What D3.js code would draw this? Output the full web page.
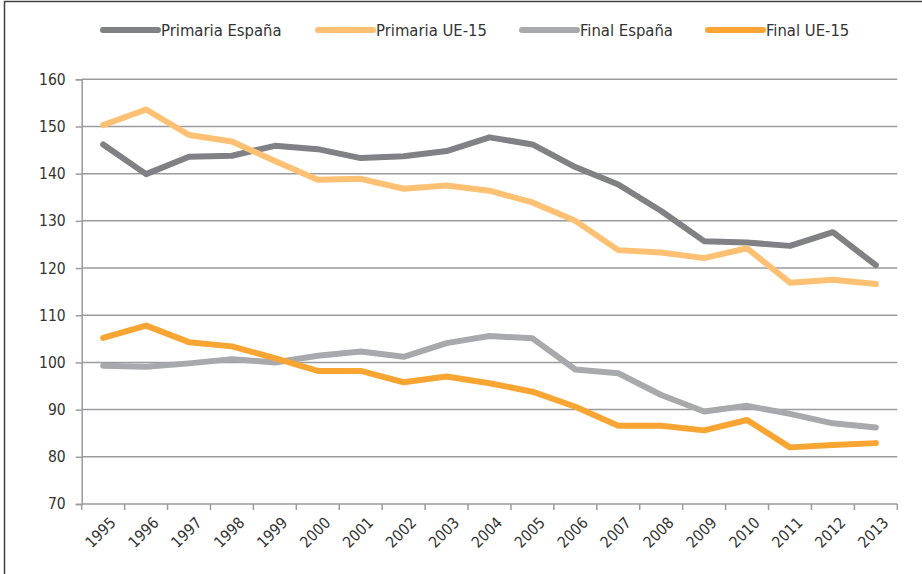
<!DOCTYPE html>
<html>
<head>
<meta charset="utf-8">
<script src="https://cdn.jsdelivr.net/npm/d3@7"></script>
<style>
  body { margin: 0; background: #fff; }
  svg text { font-family: "Liberation Sans Narrow", "DejaVu Sans Condensed", "Liberation Sans", sans-serif; fill: #333; }
</style>
</head>
<body>
<script>
var w = 922;
var h = 574;

var years = ["1995","1996","1997","1998","1999","2000","2001","2002","2003","2004",
             "2005","2006","2007","2008","2009","2010","2011","2012","2013"];
var yTicks = [70, 80, 90, 100, 110, 120, 130, 140, 150, 160];

var primariaEspana = [146.2, 139.9, 143.6, 143.8, 145.9, 145.2, 143.3, 143.7, 144.8, 147.7,
                      146.2, 141.4, 137.7, 132.1, 125.7, 125.4, 124.7, 127.6, 120.6];
var primariaUE15 = [150.3, 153.6, 148.2, 146.8, 142.7, 138.7, 138.9, 136.8, 137.5, 136.4,
                    133.9, 130.0, 123.8, 123.3, 122.1, 124.2, 116.9, 117.5, 116.6];
var finalEspana = [99.3, 99.1, 99.8, 100.7, 100.0, 101.4, 102.3, 101.2, 104.1, 105.6,
                   105.1, 98.5, 97.7, 93.1, 89.6, 90.8, 89.1, 87.1, 86.2];
var finalUE15 = [105.2, 107.8, 104.3, 103.4, 100.9, 98.2, 98.2, 95.8, 97.0, 95.6,
                 93.8, 90.6, 86.6, 86.6, 85.6, 87.8, 82.0, 82.5, 82.9];

var seriesNames = ["Primaria España", "Primaria UE-15", "Final España", "Final UE-15"];
var seriesColors = ["#808184", "#FEC173", "#A7A9AC", "#F9A533"];
var seriesValues = [primariaEspana, primariaUE15, finalEspana, finalUE15];

var svg = d3.select("body").append("svg")
    .attr("width", w)
    .attr("height", h);

// frame (only top and left visible)
svg.append("line").attr("x1", 4).attr("x2", w).attr("y1", 1.5).attr("y2", 1.5)
    .attr("stroke", "#404040").attr("stroke-width", 1.5);
svg.append("line").attr("x1", 4.5).attr("x2", 4.5).attr("y1", 1).attr("y2", h)
    .attr("stroke", "#404040").attr("stroke-width", 1.5);

var xScale = d3.scaleBand()
    .domain(years)
    .range([81.7, 897.3]);

var yScale = d3.scaleLinear()
    .domain([70, 160])
    .range([504, 79.3]);

var axisColor = "#9B9B9E";

// gridlines
svg.append("g").selectAll("line")
    .data(yTicks.slice(1))
    .enter()
    .append("line")
    .attr("x1", 81.7)
    .attr("x2", 897.3)
    .attr("y1", d => yScale(d))
    .attr("y2", d => yScale(d))
    .attr("stroke", axisColor)
    .attr("stroke-width", 1.5);

// y axis
var yAxis = d3.axisLeft(yScale).tickValues(yTicks).tickSize(6).tickPadding(10);
var gy = svg.append("g")
    .attr("transform", "translate(81.7,0)")
    .call(yAxis);
gy.select(".domain").attr("stroke", axisColor).attr("stroke-width", 1.5);
gy.selectAll(".tick line").attr("stroke", axisColor).attr("stroke-width", 1.5);
gy.selectAll(".tick text").style("font-size", "15.5px").attr("fill", "#333");

// x axis (ticks between categories)
var gx = svg.append("g")
    .attr("transform", "translate(0,504)");
gx.append("line")
    .attr("x1", 81.7).attr("x2", 897.3)
    .attr("stroke", axisColor).attr("stroke-width", 1.5);
gx.selectAll(".xt")
    .data(years.concat(["end"]))
    .enter()
    .append("line")
    .attr("class", "xt")
    .attr("x1", (d, i) => i < years.length ? xScale(d) : xScale.range()[1])
    .attr("x2", (d, i) => i < years.length ? xScale(d) : xScale.range()[1])
    .attr("y1", 0).attr("y2", 6)
    .attr("stroke", axisColor).attr("stroke-width", 1.5);
gx.selectAll(".xl")
    .data(years)
    .enter()
    .append("text")
    .attr("class", "xl")
    .attr("text-anchor", "end")
    .attr("transform", d => "translate(" + (xScale(d) + xScale.bandwidth() / 2 + 6) + ",12) rotate(-45)")
    .attr("dy", "0.7em")
    .style("font-size", "15.5px")
    .text(d => d);

// lines
var line = d3.line()
    .x((d, i) => xScale(years[i]) + xScale.bandwidth() / 2)
    .y(d => yScale(d));

svg.append("g").selectAll("path")
    .data(seriesValues)
    .enter()
    .append("path")
    .attr("d", d => line(d))
    .attr("fill", "none")
    .attr("stroke", (d, i) => seriesColors[i])
    .attr("stroke-width", 6)
    .attr("stroke-linecap", "round")
    .attr("stroke-linejoin", "round");

// legend
var legendX = [103, 318, 522, 708];
var lg = svg.append("g").selectAll("g")
    .data(seriesNames)
    .enter()
    .append("g")
    .attr("transform", (d, i) => "translate(" + legendX[i] + ",30)");
lg.append("line")
    .attr("x1", 0).attr("x2", 55)
    .attr("stroke", (d, i) => seriesColors[i])
    .attr("stroke-width", 6)
    .attr("stroke-linecap", "round");
lg.append("text")
    .attr("x", 58)
    .attr("dy", "0.35em")
    .style("font-size", "16.5px")
    .text(d => d);
</script>
</body>
</html>
